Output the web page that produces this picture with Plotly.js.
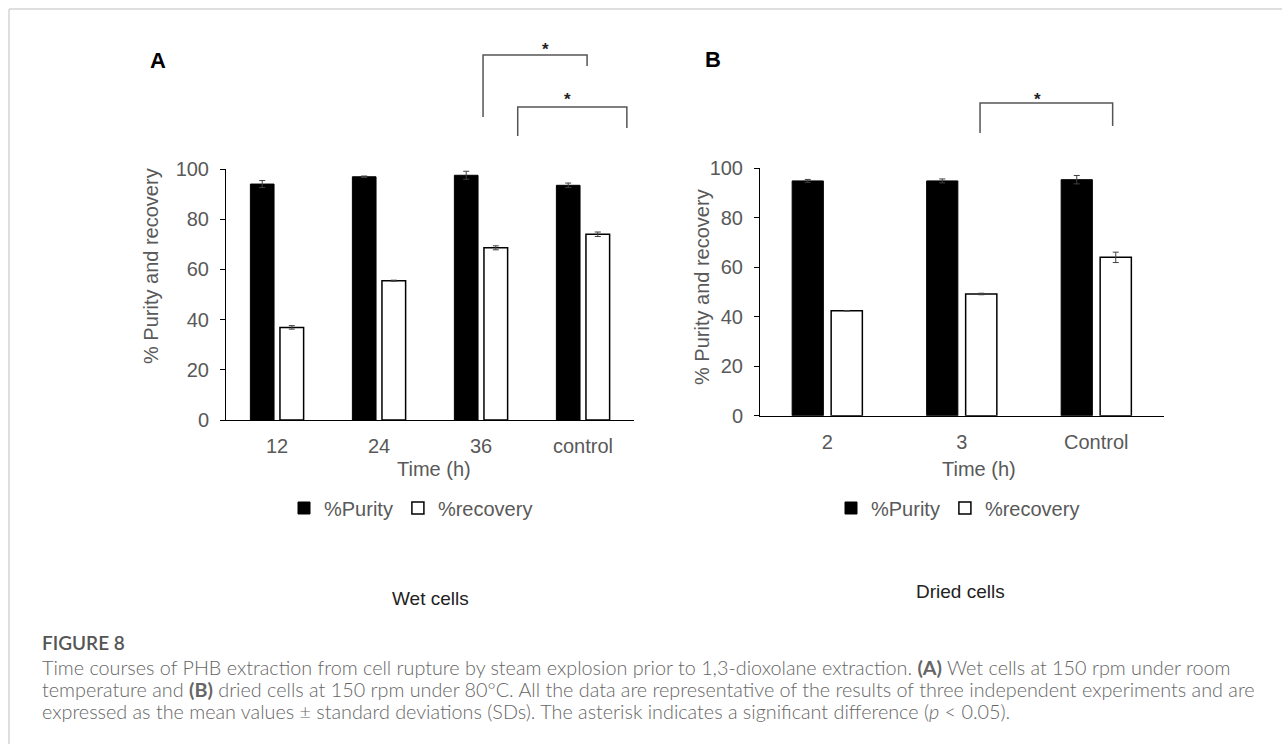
<!DOCTYPE html>
<html>
<head>
<meta charset="utf-8">
<script src="https://cdn.plot.ly/plotly-3.0.1.min.js"></script>
<style>
  html, body { margin: 0; padding: 0; background: #fff; }
  #chart { width: 1282px; height: 744px; }
</style>
</head>
<body>
<div id="chart"></div>
<script>
// ---- Data ----
const categoriesA = ['12', '24', '36', 'control'];
const purityA = [94.0, 96.9, 97.5, 93.5];
const purityErrA = [1.4, 0.3, 1.6, 0.9];
const recoveryA = [36.9, 55.5, 68.6, 74.0];
const recoveryErrA = [0.7, 0.2, 0.8, 0.9];

const categoriesB = ['2', '3', 'Control'];
const purityB = [94.9, 94.9, 95.4];
const purityErrB = [0.6, 0.8, 1.7];
const recoveryB = [42.4, 49.2, 64.0];
const recoveryErrB = [0.1, 0.3, 2.1];

const seriesNames = ['%Purity', '%recovery'];
const yTickVals = [0, 20, 40, 60, 80, 100];

// ---- Layout helpers (pixel -> paper) ----
const W = 1282, H = 744;
const px = x => x / W;
const py = y => 1 - y / H;

const FONT = 'Liberation Sans, Arial, sans-serif';
const GREY = '#595959';
const FS = 20;

function bar(x, y, err, name, fill, xa, ya, legend, lw) {
  return {
    type: 'bar', x: x, y: y, name: name,
    xaxis: xa, yaxis: ya, legend: legend,
    marker: { color: fill, line: { color: '#000', width: lw } },
    error_y: { type: 'data', array: err, visible: true, color: '#404040', thickness: 1, width: 3 },
    hoverinfo: 'x+y'
  };
}

const data = [
  bar(categoriesA, purityA, purityErrA, seriesNames[0], '#000', 'x', 'y', 'legend', 1),
  bar(categoriesA, recoveryA, recoveryErrA, seriesNames[1], '#fff', 'x', 'y', 'legend', 1.5),
  bar(categoriesB, purityB, purityErrB, seriesNames[0], '#000', 'x2', 'y2', 'legend2', 1),
  bar(categoriesB, recoveryB, recoveryErrB, seriesNames[1], '#fff', 'x2', 'y2', 'legend2', 1.5)
];

function yaxis(domain, anchor) {
  return {
    domain: domain, anchor: anchor, range: [0, 100], tickvals: yTickVals,
    ticks: 'outside', ticklen: 5, tickcolor: '#000', tickwidth: 1,
    showline: true, linecolor: '#000', linewidth: 1,
    showgrid: false, zeroline: false,
    tickfont: { family: FONT, size: FS, color: GREY },
    ticklabelstandoff: 7, fixedrange: true
  };
}
function xaxis(domain, anchor) {
  return {
    domain: domain, anchor: anchor, type: 'category',
    ticks: '', showline: true, linecolor: '#000', linewidth: 1,
    showgrid: false, zeroline: false,
    tickfont: { family: FONT, size: FS, color: GREY },
    ticklabelstandoff: 8, fixedrange: true
  };
}

const legendCommon = {
  orientation: 'h', xanchor: 'center', yanchor: 'middle',
  font: { family: FONT, size: FS, color: GREY },
  bgcolor: 'rgba(0,0,0,0)', traceorder: 'normal'
};

const bracketLine = { color: '#555', width: 1.5 };
function bracket(xref, xL, xR, yTop, yL, yR) {
  return {
    type: 'path', xref: xref, yref: 'paper', line: bracketLine,
    path: 'M ' + xL + ' ' + py(yL) + ' L ' + xL + ' ' + py(yTop) +
          ' L ' + xR + ' ' + py(yTop) + ' L ' + xR + ' ' + py(yR)
  };
}

const shapes = [
  // frame lines of the figure page
  { type: 'line', xref: 'paper', yref: 'paper', x0: px(9), x1: 1, y0: py(9), y1: py(9), line: { color: '#d4d4d4', width: 1.5 } },
  { type: 'line', xref: 'paper', yref: 'paper', x0: px(9), x1: px(9), y0: py(9), y1: 0, line: { color: '#d4d4d4', width: 1.5 } },
  // significance brackets (x in category units)
  bracket('x', 2.02, 3.04, 55, 117, 66),
  bracket('x', 2.36, 3.43, 107, 136, 128),
  bracket('x2', 1.136, 2.122, 103, 133, 126)
];

function txt(text, x, y, size, color, opts) {
  return Object.assign({
    text: text, x: px(x), y: py(y), xref: 'paper', yref: 'paper',
    showarrow: false, font: { family: FONT, size: size, color: color },
    xanchor: 'center', yanchor: 'middle'
  }, opts || {});
}

const CAP = 'Lato, Open Sans, sans-serif';
const CAPC = '#666666';
function cap(text, y, size, extra) {
  return {
    text: text, x: px(40), y: py(y), xref: 'paper', yref: 'paper',
    showarrow: false, xanchor: 'left', yanchor: 'middle', align: 'left',
    font: Object.assign({ family: CAP, size: size, color: CAPC, weight: 300 }, extra || {})
  };
}

const annotations = [
  txt('<b>A</b>', 158, 60, 22, '#000'),
  txt('<b>B</b>', 713, 59, 22, '#000'),
  txt('<b>*</b>', 545, 50, 17, '#222'),
  txt('<b>*</b>', 567, 99, 17, '#222'),
  txt('<b>*</b>', 1037, 99, 17, '#222'),
  txt('% Purity and recovery', 151, 266, FS, GREY, { textangle: -90 }),
  txt('% Purity and recovery', 702, 287, FS, GREY, { textangle: -90 }),
  txt('Time (h)', 434, 469, FS, GREY),
  txt('Time (h)', 979, 469, FS, GREY),
  txt('Wet cells', 430, 598, 19, '#222'),
  txt('Dried cells', 960, 591, 19, '#222'),
  cap('FIGURE 8', 642, 19, { color: '#555', weight: 600 }),
  cap('Time courses of PHB extraction from cell rupture by steam explosion prior to 1,3-dioxolane extraction. <b>(A)</b> Wet cells at 150 rpm under room', 667, 19.8),
  cap('temperature and <b>(B)</b> dried cells at 150 rpm under 80°C. All the data are representative of the results of three independent experiments and are', 689, 19.8),
  cap('expressed as the mean values ± standard deviations (SDs). The asterisk indicates a significant difference (<i>p</i> &lt; 0.05).', 711, 19.8)
];

const layout = {
  width: W, height: H,
  margin: { l: 0, r: 0, t: 0, b: 0 },
  paper_bgcolor: '#fff', plot_bgcolor: 'rgba(0,0,0,0)',
  barmode: 'group', bargap: 0.42, bargroupgap: 0.2,
  showlegend: true,
  xaxis: xaxis([px(226), px(634)], 'y'),
  yaxis: yaxis([py(420), py(169)], 'x'),
  xaxis2: xaxis([px(760), px(1163.5)], 'y2'),
  yaxis2: yaxis([py(415.7), py(168.3)], 'x2'),
  legend: Object.assign({ x: px(411), y: py(508) }, legendCommon),
  legend2: Object.assign({ x: px(958), y: py(508) }, legendCommon),
  shapes: shapes,
  annotations: annotations,
  font: { family: FONT }
};

Plotly.newPlot('chart', data, layout, { displayModeBar: false, staticPlot: true });
</script>
</body>
</html>
